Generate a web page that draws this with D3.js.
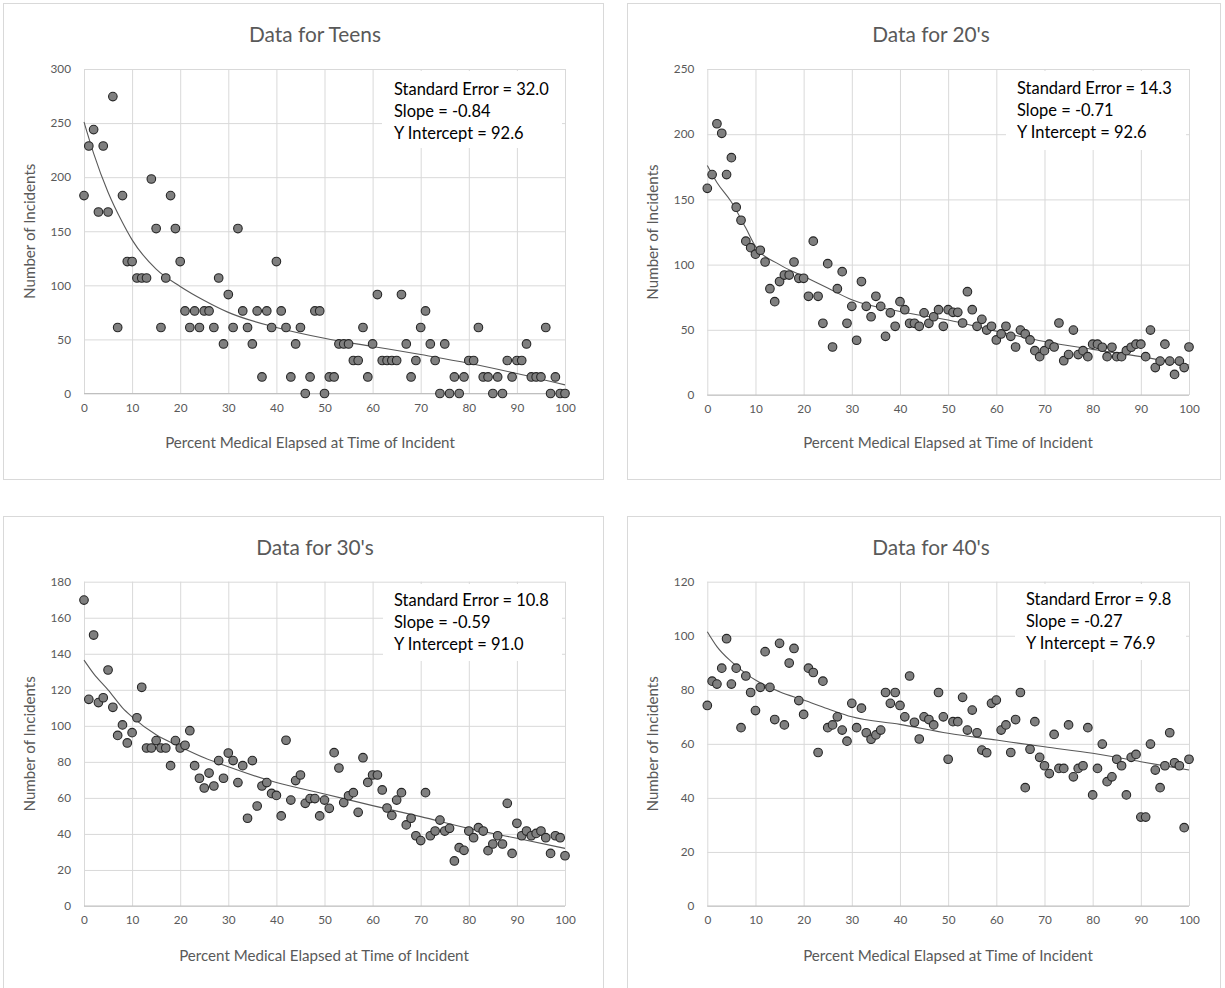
<!DOCTYPE html>
<html><head><meta charset="utf-8">
<script src="https://cdn.jsdelivr.net/npm/d3@7"></script>
<style>
body{margin:0;background:#fff;}
svg{display:block;}
text{font-family:Lato,'Open Sans',sans-serif;}
</style>
</head><body>
<svg id="chart" width="1225" height="988"></svg>
<script>
// ---------- DATA ----------
const percentElapsed = [
 0,1,2,3,4,5,6,7,8,9,
 10,11,12,13,14,15,16,17,18,19,
 20,21,22,23,24,25,26,27,28,29,
 30,31,32,33,34,35,36,37,38,39,
 40,41,42,43,44,45,46,47,48,49,
 50,51,52,53,54,55,56,57,58,59,
 60,61,62,63,64,65,66,67,68,69,
 70,71,72,73,74,75,76,77,78,79,
 80,81,82,83,84,85,86,87,88,89,
 90,91,92,93,94,95,96,97,98,99,
 100];
const xTicks = [0,10,20,30,40,50,60,70,80,90,100];

const teensIncidents = [
 183,228.8,244,167.8,228.8,167.8,274.5,61,183,122,
 122,106.8,106.8,106.8,198.3,152.5,61,106.8,183,152.5,
 122,76.3,61,76.3,61,76.3,76.3,61,106.8,45.8,
 91.5,61,152.5,76.3,61,45.8,76.3,15.3,76.3,61,
 122,76.3,61,15.3,45.8,61,0,15.3,76.3,76.3,
 0,15.3,15.3,45.8,45.8,45.8,30.5,30.5,61,15.3,
 45.8,91.5,30.5,30.5,30.5,30.5,91.5,45.8,15.3,30.5,
 61,76.3,45.8,30.5,0,45.8,0,15.3,0,15.3,
 30.5,30.5,61,15.3,15.3,0,15.3,0,30.5,15.3,
 30.5,30.5,45.8,15.3,15.3,15.3,61,0,15.3,0,
 0];
const twentiesIncidents = [
 158.5,169,208,200.7,169,182,144,134,118,113,
 108,111,102,81.5,71.6,87,92,92,102,89.5,
 89.5,75.7,118,75.7,55,100.7,36.8,81.5,94.6,55,
 68,42,87,68,60,75.7,68,45,63,52.7,
 71.6,65.4,55,55,52.7,63,55,60,65.4,52.7,
 65.4,63.4,63.4,55.2,79.2,65.4,52.7,58,49.8,52.7,
 42.2,46.8,52.7,45,36.8,49.8,46.8,42.2,34,29.4,
 34,39,36.8,55.2,26.3,31,49.8,31,34,29.4,
 39,39,36.6,29.4,36.6,29.4,29.4,34,36.6,39,
 39,29.4,49.8,21,26,39,26,15.8,26,21,
 36.8];
const thirtiesIncidents = [
 169.8,114.7,150.4,112.9,115.6,131,110.3,94.7,100.5,90.5,
 96.2,104.5,121.4,87.7,87.7,91.8,87.7,87.7,77.9,91.8,
 87.7,89.2,97.3,77.9,70.9,65.5,73.8,66.6,80.7,70.9,
 84.9,80.7,68.5,77.9,48.7,80.7,55.5,66.6,68.5,62.5,
 61.4,50,92,58.8,69.6,72.7,57,59.6,59.6,50,
 58.8,54.2,85.1,76.6,57.4,61.2,62.9,52,82.3,68.6,
 72.7,72.7,64.4,54.4,50.3,58.8,62.9,45,48.7,39,
 36.3,62.9,39,41.6,47.7,41.6,43.1,25,32.4,30.9,
 41.6,37.9,43.5,41.6,30.7,34.4,39,34.4,57,29.2,
 45.9,39,41.6,39,40.3,41.6,37.9,29.2,39,37.9,
 27.9];
const fortiesIncidents = [
 74.2,83.2,82.1,88,98.9,82.1,88,66,85.1,79,
 72.3,80.9,94.1,80.9,69,97.2,67,89.9,95.3,76,
 70.9,88,86.4,56.8,83.2,66,67,70,65.1,61,
 75,66,73.2,64.1,61.7,63.3,65.1,79,75,79,
 74.2,70,85.1,68,61.8,70,69,67,79,70,
 54.3,68.2,68.2,77.2,65.1,72.5,64.1,57.7,56.7,75,
 76.2,65.1,67,56.8,69,79,43.8,58,68.2,55,
 51.9,49,63.5,50.9,50.9,67,47.8,50.9,51.9,66,
 41.1,50.9,59.9,46,47.8,54.3,51.9,41.1,55,56.1,
 32.9,32.9,59.9,50.3,43.8,51.9,64.1,53,51.9,29,
 54.3];

// trend curves
const trendX = [0,2,5,8,10,15,20,25,30,40,50,60,70,80,90,100];
const teensTrend    = [251,222,186,158,142,115,99,86,75,61,51,43.5,36,28,18.5,8];
const twentiesTrend = [176,163,148,128,114,100,91,82,73,64,57.5,49,41,35,29.4,23];
const thirtiesTrend = [136.5,129,120,110,105,95,88.4,82.3,77.3,68.5,62.2,55.7,49.6,43.1,37.6,32];
const fortiesTrend  = [101.5,96,90.4,86,83.6,79.3,76.2,73,70,67.2,63.9,61.4,58.9,56.5,53.4,50.3];

const teensYTicks    = [0,50,100,150,200,250,300];
const twentiesYTicks = [0,50,100,150,200,250];
const thirtiesYTicks = [0,20,40,60,80,100,120,140,160,180];
const fortiesYTicks  = [0,20,40,60,80,100,120];

const titles = ["Data for Teens","Data for 20's","Data for 30's","Data for 40's"];
const teensStats    = ["Standard Error = 32.0","Slope = -0.84","Y Intercept = 92.6"];
const twentiesStats = ["Standard Error = 14.3","Slope = -0.71","Y Intercept = 92.6"];
const thirtiesStats = ["Standard Error = 10.8","Slope = -0.59","Y Intercept = 91.0"];
const fortiesStats  = ["Standard Error = 9.8","Slope = -0.27","Y Intercept = 76.9"];
const xAxisTitle = "Percent Medical Elapsed at Time of Incident";
const yAxisTitle = "Number of Incidents";

// ---------- LAYOUT ----------
const layouts = [
 {frame:[3.5,3.5,600,476], plot:[84,69,565,393.5], titleX:315, titleY:42, xTitleX:310, xTitleY:448, yTitleX:30, statsX:394, statsY:95, statsBox:[382,71,562,148]},
 {frame:[627.5,3.5,593,476], plot:[707.3,69,1189,395], titleX:931, titleY:42, xTitleX:948, xTitleY:448, yTitleX:653, statsX:1017, statsY:94, statsBox:[1006,71,1186,150]},
 {frame:[3.5,516.5,600,476], plot:[84,581.7,565,906], titleX:315, titleY:555, xTitleX:324, xTitleY:961, yTitleX:30, statsX:394, statsY:606, statsBox:[383,584,562,661]},
 {frame:[627.5,516.5,593,476], plot:[707.3,581.7,1189,906], titleX:931, titleY:555, xTitleX:948, xTitleY:961, yTitleX:653, statsX:1026, statsY:605, statsBox:[1015,584,1186,660]}
];
const panelData = [
 {values:teensIncidents, yTicks:teensYTicks, trend:teensTrend, stats:teensStats},
 {values:twentiesIncidents, yTicks:twentiesYTicks, trend:twentiesTrend, stats:twentiesStats},
 {values:thirtiesIncidents, yTicks:thirtiesYTicks, trend:thirtiesTrend, stats:thirtiesStats},
 {values:fortiesIncidents, yTicks:fortiesYTicks, trend:fortiesTrend, stats:fortiesStats}
];

const svg = d3.select("#chart");
svg.append("rect").attr("width",1225).attr("height",988).attr("fill","#fff");

// fit font sizes to measured widths
function fitSize(str, target){
  const t = svg.append("text").attr("font-size",20).text(str);
  const len = t.node().getComputedTextLength();
  t.remove();
  return 20*target/len;
}
const titleSize = fitSize("Data for Teens",132);
const axisTitleSize = fitSize(xAxisTitle,290);
const statsSize = fitSize("Standard Error = 32.0",155);
const tickSize = fitSize("300",20.5);

panelData.forEach((pd,i)=>{
  const L = layouts[i];
  const g = svg.append("g");
  const [fx,fy,fw,fh] = L.frame;
  g.append("rect").attr("x",fx).attr("y",fy).attr("width",fw).attr("height",fh)
    .attr("fill","#fff").attr("stroke","#d9d9d9").attr("stroke-width",1);

  const [l,t,r,b] = L.plot;
  const x = d3.scaleLinear().domain([0,100]).range([l,r]);
  const yMax = pd.yTicks[pd.yTicks.length-1];
  const y = d3.scaleLinear().domain([0,yMax]).range([b,t]);

  // gridlines
  const gy = g.append("g").attr("transform",`translate(${l},0)`)
    .call(d3.axisLeft(y).tickValues(pd.yTicks).tickSize(-(r-l)).tickFormat(""));
  gy.select(".domain").remove();
  gy.selectAll("line").attr("stroke","#d9d9d9").attr("stroke-width",1);
  const gx = g.append("g").attr("transform",`translate(0,${b})`)
    .call(d3.axisBottom(x).tickValues(xTicks).tickSize(-(b-t)).tickFormat(""));
  gx.select(".domain").remove();
  gx.selectAll("line").attr("stroke","#d9d9d9").attr("stroke-width",1);
  // x axis baseline
  g.append("line").attr("x1",l).attr("x2",r).attr("y1",y(0)).attr("y2",y(0))
    .attr("stroke","#bfbfbf").attr("stroke-width",1.2);

  // tick labels
  const ly = g.append("g").attr("transform",`translate(${l},0)`)
    .call(d3.axisLeft(y).tickValues(pd.yTicks).tickSize(0).tickPadding(13));
  ly.select(".domain").remove();
  ly.selectAll("text").attr("font-size",tickSize).attr("fill","#595959")
    .attr("font-family","Lato,'Open Sans',sans-serif");
  const lx = g.append("g").attr("transform",`translate(0,${b})`)
    .call(d3.axisBottom(x).tickValues(xTicks).tickSize(0).tickPadding(10));
  lx.select(".domain").remove();
  lx.selectAll("text").attr("font-size",tickSize).attr("fill","#595959")
    .attr("font-family","Lato,'Open Sans',sans-serif");

  // stats box (white, hides grid)
  const [sx0,sy0,sx1,sy1] = L.statsBox;
  g.append("rect").attr("x",sx0).attr("y",sy0).attr("width",sx1-sx0).attr("height",sy1-sy0)
    .attr("fill","#fff");

  // trend line
  const line = d3.line().x(d=>x(d[0])).y(d=>y(d[1])).curve(d3.curveMonotoneX);
  g.append("path").datum(trendX.map((v,k)=>[v,pd.trend[k]]))
    .attr("d",line).attr("fill","none").attr("stroke","#595959").attr("stroke-width",1.1);

  // points
  g.append("g").selectAll("circle").data(pd.values).join("circle")
    .attr("cx",(d,k)=>x(percentElapsed[k])).attr("cy",d=>y(d)).attr("r",4.3)
    .attr("fill","#7f7f7f").attr("stroke","#262626").attr("stroke-width",1.1);

  // stats text
  g.append("g").selectAll("text").data(pd.stats).join("text")
    .attr("x",L.statsX).attr("y",(d,k)=>L.statsY + k*22.2)
    .attr("font-size",statsSize).attr("fill","#000").text(d=>d);

  // titles
  g.append("text").attr("x",L.titleX).attr("y",L.titleY).attr("text-anchor","middle")
    .attr("font-size",titleSize).attr("fill","#595959").text(titles[i]);
  g.append("text").attr("x",L.xTitleX).attr("y",L.xTitleY).attr("text-anchor","middle")
    .attr("font-size",axisTitleSize).attr("fill","#595959").text(xAxisTitle);
  g.append("text").attr("transform",`translate(${L.yTitleX},${(t+b)/2}) rotate(-90)`)
    .attr("text-anchor","middle").attr("dy","0.35em")
    .attr("font-size",axisTitleSize).attr("fill","#595959").text(yAxisTitle);
});
</script>
</body></html>
